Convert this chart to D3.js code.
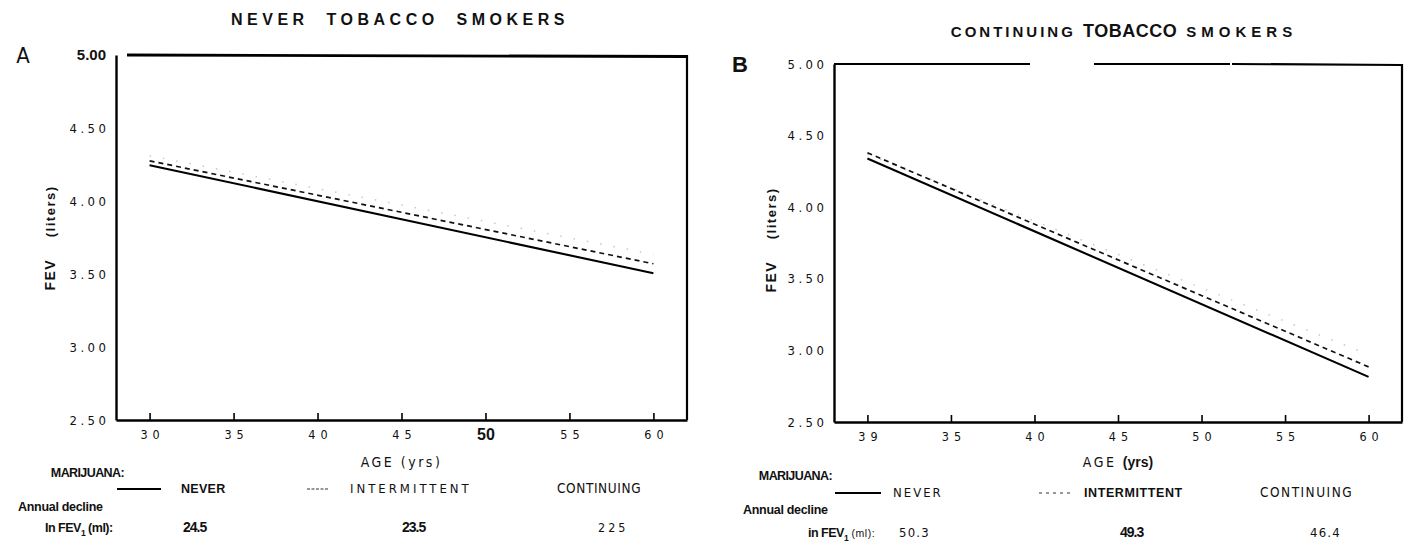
<!DOCTYPE html>
<html>
<head>
<meta charset="utf-8">
<script src="https://cdn.jsdelivr.net/npm/d3@7"></script>
<style>
  body { margin: 0; background: #fff; }
  svg { display: block; }
  text { fill: #111; }
</style>
</head>
<body>
<div id="chart"></div>
<script>
// ages at the two ends of each fitted line
const ages = [30, 60];

// A: never tobacco smokers, FEV1 in liters
const neverA = [4.245, 3.505];
const intermittentA = [4.275, 3.57];
const continuingA = [4.31, 3.635];

// B: continuing tobacco smokers
const neverB = [4.34, 2.815];
const intermittentB = [4.38, 2.885];
const continuingB = [4.37, 2.97];

const xTicks = [30, 35, 40, 45, 50, 55, 60];
const xTickLabelsA = ["30", "35", "40", "45", "50", "55", "60"];
const xTickLabelsB = ["39", "35", "40", "45", "50", "55", "60"];
const yTicks = [2.5, 3.0, 3.5, 4.0, 4.5, 5.0];

const groups = ["NEVER", "INTERMITTENT", "CONTINUING"];
const declineA = ["24.5", "23.5", "225"];
const declineB = ["50.3", "49.3", "46.4"];

const width = 1409;
const height = 544;
const narrow = "'Liberation Sans Narrow', 'DejaVu Sans Condensed', 'Liberation Sans', sans-serif";
const heavy = "'Liberation Sans', Arial, sans-serif";

const svg = d3.select("#chart")
    .append("svg")
    .attr("width", width)
    .attr("height", height);

function drawPanel(p) {
    const x = d3.scaleLinear().domain([28, 62]).range([p.left, p.right]);
    const y = d3.scaleLinear().domain([2.5, 5]).range([p.bottom, p.top]);
    const g = svg.append("g");

    // frame: top line (with scan gaps) and right side
    p.topSegments.forEach(s => {
        g.append("line")
            .attr("x1", s[0]).attr("x2", s[1])
            .attr("y1", y(5)).attr("y2", y(5) + s[2])
            .attr("stroke", "#000").attr("stroke-width", p.topWidth);
    });
    g.append("line")
        .attr("x1", x(62)).attr("x2", x(62))
        .attr("y1", y(5)).attr("y2", y(2.5))
        .attr("stroke", "#000").attr("stroke-width", 2.2);

    // bottom axis, ticks pointing inwards
    const xa = g.append("g")
        .attr("transform", `translate(0,${y(2.5)})`)
        .call(d3.axisBottom(x).tickValues(xTicks)
            .tickSizeInner(-7).tickSizeOuter(0).tickPadding(10)
            .tickFormat((d, i) => p.xLabels[i]));
    xa.select(".domain").attr("stroke-width", 2.6);
    xa.selectAll(".tick line").attr("stroke-width", 1.6);
    xa.selectAll(".tick text")
        .attr("font-family", narrow)
        .attr("font-size", 12.5)
        .attr("letter-spacing", "5px")
        .attr("dx", "2.5px")
        .attr("fill", "#222")
        .filter(d => p.boldTicks.includes(d))
        .attr("font-family", heavy)
        .attr("font-weight", "bold")
        .attr("font-size", 16)
        .attr("letter-spacing", "0px")
        .attr("dx", "0px")
        .attr("dy", "0.62em")
        .attr("fill", "#000");

    // left axis, labels only
    const ya = g.append("g")
        .attr("transform", `translate(${p.left},0)`)
        .call(d3.axisLeft(y).tickValues(yTicks).tickSize(0).tickPadding(10)
            .tickFormat(d3.format(".2f")));
    ya.select(".domain").attr("stroke-width", 2.4);
    ya.selectAll(".tick text")
        .attr("font-family", narrow)
        .attr("font-size", 13)
        .attr("letter-spacing", "3.5px")
        .attr("dx", "3.5px")
        .attr("fill", "#222");
    if (p.boldTop) {
        ya.selectAll(".tick text").filter(d => d === 5)
            .attr("font-family", heavy).attr("font-weight", "bold")
            .attr("font-size", 15).attr("letter-spacing", "0px")
            .attr("dx", "0px").attr("fill", "#000");
    }

    // y title
    const yt = g.append("text")
        .attr("transform", `translate(${p.yTitleX},${p.yTitleY}) rotate(-90)`)
        .attr("text-anchor", "middle")
        .attr("font-family", heavy)
        .attr("font-weight", "bold")
        .attr("letter-spacing", "1.5px")
        .style("white-space", "pre");
    yt.append("tspan").attr("font-size", 14).text("FEV    ");
    yt.append("tspan").attr("font-size", 13).text("(liters)");

    // fitted lines
    const line = d3.line().x(d => x(d[0])).y(d => y(d[1]));
    const series = [
        { v: p.continuing, stroke: "#c8c8c8", w: 1.5, dash: "1.5,12" },
        { v: p.intermittent, stroke: "#111", w: 1.7, dash: "5,4" },
        { v: p.never, stroke: "#000", w: 2.1, dash: null }
    ];
    series.forEach(s => {
        g.append("path")
            .datum(d3.zip(ages, s.v))
            .attr("d", line)
            .attr("fill", "none")
            .attr("stroke", s.stroke)
            .attr("stroke-width", s.w)
            .attr("stroke-dasharray", s.dash);
    });

    // panel letter and title
    g.append("text")
        .attr("x", p.letterX).attr("y", y(5) + 8)
        .attr("font-family", p.letterBold ? heavy : narrow)
        .attr("font-weight", p.letterBold ? "bold" : "normal")
        .attr("font-size", 22)
        .attr("text-anchor", "middle")
        .text(p.letter);

    const t = g.append("text")
        .attr("x", p.titleX).attr("y", p.titleY)
        .attr("text-anchor", "middle")
        .attr("font-family", heavy)
        .attr("font-weight", "bold")
        .style("white-space", "pre");
    p.title.forEach(part => {
        t.append("tspan")
            .attr("font-size", part.size)
            .attr("letter-spacing", part.ls + "px")
            .text(part.text);
    });

    // x title
    const xt = g.append("text")
        .attr("x", x(45)).attr("y", p.xTitleY)
        .attr("text-anchor", "middle")
        .attr("font-family", narrow)
        .attr("font-size", 14)
        .attr("letter-spacing", "2.5px")
        .style("white-space", "pre");
    xt.append("tspan").text("AGE ");
    xt.append("tspan")
        .attr("font-weight", p.yrsBold ? "bold" : "normal")
        .attr("font-family", p.yrsBold ? heavy : narrow)
        .attr("letter-spacing", p.yrsBold ? "0px" : "2.5px")
        .text("(yrs)");

    // legend block
    const lg = g.append("g")
        .attr("font-family", heavy)
        .attr("font-weight", "bold");
    lg.append("text")
        .attr("x", p.labelRight).attr("y", p.rowMar)
        .attr("text-anchor", "end")
        .attr("font-size", 12.5)
        .attr("letter-spacing", "-0.6px")
        .text("MARIJUANA:");
    lg.append("text")
        .attr("x", p.declineX).attr("y", p.rowDecl)
        .attr("font-size", 12.5)
        .attr("letter-spacing", "-0.3px")
        .text("Annual decline");
    const fev = lg.append("text")
        .attr("x", p.fevX).attr("y", p.rowVal)
        .attr("font-size", 12.5)
        .attr("letter-spacing", "-0.5px");
    fev.append("tspan").text(p.fevPrefix);
    fev.append("tspan").attr("font-size", 8.5).attr("dy", 4).text("1");
    fev.append("tspan").attr("dy", -4)
        .attr("font-weight", p.mlBold ? "bold" : "normal")
        .attr("font-size", p.mlBold ? 12.5 : 10.5)
        .attr("letter-spacing", p.mlBold ? "-0.5px" : "0.5px")
        .text(" (ml):");

    // sample lines
    lg.append("line")
        .attr("x1", p.sampleSolid[0]).attr("x2", p.sampleSolid[1])
        .attr("y1", p.rowLeg - 4).attr("y2", p.rowLeg - 4)
        .attr("stroke", "#000").attr("stroke-width", 2);
    lg.append("line")
        .attr("x1", p.sampleDash[0]).attr("x2", p.sampleDash[1])
        .attr("y1", p.rowLeg - 4).attr("y2", p.rowLeg - 4)
        .attr("stroke", "#333").attr("stroke-width", 1)
        .attr("stroke-dasharray", p.sampleDashPattern);

    groups.forEach((name, i) => {
        const st = p.groupStyle[i];
        lg.append("text")
            .attr("x", p.groupX[i]).attr("y", p.rowLeg)
            .attr("font-family", st.bold ? heavy : narrow)
            .attr("font-weight", st.bold ? "bold" : "normal")
            .attr("font-size", st.size)
            .attr("letter-spacing", st.ls)
            .attr("fill", "#111")
            .text(name);
        const vs = p.valueStyle[i];
        lg.append("text")
            .attr("x", p.valueX[i]).attr("y", p.rowVal)
            .attr("font-family", vs.bold ? heavy : narrow)
            .attr("font-weight", vs.bold ? "bold" : "normal")
            .attr("font-size", vs.size)
            .attr("letter-spacing", vs.ls)
            .text(p.decline[i]);
    });
}

drawPanel({
    letter: "A", letterX: 23, letterBold: false,
    left: 116, right: 687, top: 55, bottom: 420,
    topSegments: [[127, 687, 1.5]], topWidth: 2.8,
    boldTop: true,
    xLabels: xTickLabelsA, boldTicks: [50],
    never: neverA, intermittent: intermittentA, continuing: continuingA,
    yTitleX: 55, yTitleY: 238,
    title: [
        { text: "NEVER  TOBACCO  SMOKERS", size: 16, ls: 4.5 }
    ], titleX: 400, titleY: 25,
    xTitleY: 467, yrsBold: false,
    labelRight: 124, declineX: 18, fevX: 45, fevPrefix: "In FEV", mlBold: true,
    rowMar: 477, rowLeg: 493, rowDecl: 511, rowVal: 532,
    sampleSolid: [117, 161], sampleDash: [307, 329], sampleDashPattern: "3,1.5",
    groupX: [181, 350, 557], valueX: [183, 402, 598],
    groupStyle: [
        { bold: true, size: 12.5, ls: "0.3px" },
        { bold: false, size: 13, ls: "3px" },
        { bold: false, size: 13.5, ls: "0.6px" }
    ],
    valueStyle: [
        { bold: true, size: 14, ls: "-1px" },
        { bold: true, size: 14, ls: "-1px" },
        { bold: false, size: 12.5, ls: "3px" }
    ],
    decline: declineA
});

drawPanel({
    letter: "B", letterX: 740, letterBold: true,
    left: 834, right: 1402, top: 64, bottom: 422,
    topSegments: [[834, 1030, 0], [1094, 1230, 0], [1232, 1402, 1]], topWidth: 2.2,
    boldTop: false,
    xLabels: xTickLabelsB, boldTicks: [],
    never: neverB, intermittent: intermittentB, continuing: continuingB,
    yTitleX: 776, yTitleY: 240,
    title: [
        { text: "CONTINUING ", size: 15, ls: 3 },
        { text: "TOBACCO", size: 18, ls: 0.5 },
        { text: " SMOKERS", size: 15, ls: 5 }
    ], titleX: 1124, titleY: 37,
    xTitleY: 467, yrsBold: true,
    labelRight: 832, declineX: 743, fevX: 808, fevPrefix: "in FEV", mlBold: false,
    rowMar: 480, rowLeg: 497, rowDecl: 514, rowVal: 537,
    sampleSolid: [835, 881], sampleDash: [1039, 1071], sampleDashPattern: "3,4",
    groupX: [893, 1084, 1260], valueX: [899, 1120, 1310],
    groupStyle: [
        { bold: false, size: 13, ls: "2px" },
        { bold: true, size: 12.5, ls: "0.6px" },
        { bold: false, size: 13.5, ls: "1.5px" }
    ],
    valueStyle: [
        { bold: false, size: 13, ls: "1.2px" },
        { bold: true, size: 14, ls: "-1px" },
        { bold: false, size: 13, ls: "1.2px" }
    ],
    decline: declineB
});
</script>
</body>
</html>
